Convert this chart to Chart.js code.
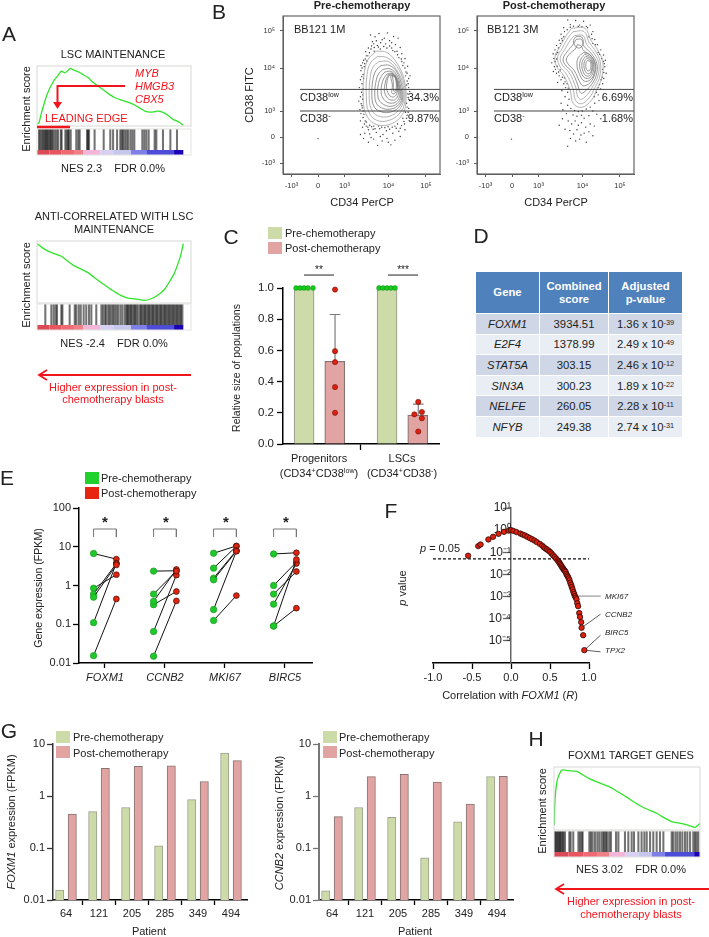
<!DOCTYPE html>
<html>
<head>
<meta charset="utf-8">
<title>Figure</title>
<script src="https://cdn.jsdelivr.net/npm/chart.js@4"></script>
<style>
  html, body { margin: 0; padding: 0; background: #fff; }
  #page { position: relative; width: 709px; height: 937px; overflow: hidden; font-family: "Liberation Sans", Arial, sans-serif; color: #222; }
  #page canvas { position: absolute; left: 0; top: 0; }
  #page svg { position: absolute; left: 0; top: 0; }
  .t { position: absolute; white-space: pre; line-height: 1; }
  sup { font-size: 0.65em; line-height: 0; vertical-align: 0.45em; }
  #genes { position: absolute; left: 475px; top: 271px; border-collapse: separate; border-spacing: 1.5px; font-size: 11.3px; text-align: center; }
  #genes th { background: #4f81bd; color: #fff; font-size: 11.3px; height: 41px; line-height: 13px; padding: 0; }
  #genes td { height: 19.6px; padding: 0; }
  #genes tr.a td { background: #cfd7e7; }
  #genes tr.b td { background: #e9edf4; }
  #genes td:first-child { font-style: italic; }
</style>
</head>
<body>
<div id="page">
<table id="genes">
  <tr><th style="width:63px">Gene</th><th style="width:68px">Combined<br>score</th><th style="width:73px">Adjusted<br>p-value</th></tr>
</table>
</div>
<script>
// ---- GSEA panels (rank in %, enrichment score)
const lscRank = [0, 1.3, 2.8, 5, 6.5, 8.2, 10, 11.5, 13.5, 15.8, 18, 19.5, 21.6, 24, 26.6, 30, 33.1, 36, 39.6, 43, 46.1, 50, 54.8, 59, 63.4, 67, 71, 75, 78, 81.8, 85, 88.3, 92, 95];
const lscES = [0.024, 0.04, 0.154, 0.295, 0.38, 0.457, 0.52, 0.566, 0.61, 0.668, 0.647, 0.665, 0.70, 0.68, 0.66, 0.625, 0.59, 0.535, 0.486, 0.44, 0.397, 0.35, 0.316, 0.29, 0.255, 0.215, 0.174, 0.17, 0.18, 0.166, 0.13, 0.081, 0.05, 0.008];
const lscHits = [1.3, 2.2, 3, 3.9, 4.8, 5.4, 6.1, 6.7, 7.4, 8.2, 8.9, 9.5, 10.4, 11.5, 12.6, 13.6, 15.4, 16, 18.4, 19.3, 20.1, 20.8, 21.9, 25.5, 26.8, 27.7, 32.5, 33.1, 33.8, 37.4, 43.3, 47.6, 49.4, 52, 54.1, 55, 55.8, 56.9, 58, 59.1, 60.6, 61.9, 63.2, 68.4, 69.7, 71, 72.5, 76.4, 77.5, 81.8, 86.6, 90.9];

const antiRank = [0, 4, 8.2, 12, 15.8, 19.5, 23.4, 28, 33.1, 37, 40.7, 45, 49.4, 54, 59.1, 64, 69.9, 75, 79.7, 83, 86.1, 89, 91.6, 93.5, 95];
const antiES = [0, -0.05, -0.087, -0.11, -0.133, -0.18, -0.227, -0.265, -0.307, -0.355, -0.401, -0.45, -0.499, -0.545, -0.576, -0.585, -0.6, -0.578, -0.53, -0.48, -0.401, -0.32, -0.209, -0.11, 0];
const antiHits = [5.4, 9.3, 10.8, 12.1, 13, 15.8, 16.5, 21.2, 24.5, 25.5, 27.1, 28.4, 30.3, 32, 33.8, 35.3, 38.5, 41.8, 42.9, 44.2, 45, 46.3, 47.2, 48.3, 49.4, 50.4, 51.5, 52.6, 54.1, 55.4, 56.9, 58, 58.7, 59.3, 60.2, 61, 61.9, 62.8, 63.6, 64.5, 65.4, 66.7, 67.5, 68.4, 69.3, 70.1, 71, 71.9, 72.7, 73.6, 74.5, 75.3, 76.2, 77.1, 77.9, 78.8, 79.7, 80.5, 81.4, 82.3, 83.1, 84, 84.8, 85.7, 86.6, 87.4, 88.3, 89.2, 90, 90.9, 91.8, 92.6, 93.5, 94.4];

const foxRank = [0.2, 0.7, 2.3, 5.3, 9.8, 15.5, 23.5, 31.5, 38.4, 44, 49.8, 55, 61.2, 70.3, 75, 80.6, 88.6, 92, 96.6, 100];
const foxES = [0, 0.366, 0.659, 0.80, 0.79, 0.78, 0.683, 0.61, 0.551, 0.48, 0.405, 0.33, 0.254, 0.171, 0.11, 0.049, 0.015, -0.005, -0.034, 0.024];
const foxHits = [0.2, 0.9, 1.6, 2.3, 3, 3.7, 4.3, 5, 5.9, 6.4, 7.5, 10.5, 11.4, 13.2, 16.7, 17.8, 19, 19.6, 24.2, 25.3, 26.5, 28.1, 29.7, 31.1, 32.6, 33.8, 34.5, 35.6, 36.5, 37.9, 39, 42.5, 44.1, 48.6, 50.9, 53.2, 54.8, 57.8, 60, 61.9, 63.5, 65.8, 68, 70.3, 72.6, 74.9, 80.6, 81.7, 83.3, 84.7, 86.3, 87.9, 89.7, 91.3, 93.2, 95.4, 96.6, 97.7, 98.9];

const bandColours = ['#dc4a58', '#e8555f', '#ef6a72', '#f08088', '#f4b6d8', '#d8d0f0', '#c6c6ee', '#7f7fe8', '#4c4cd8', '#1a00b8'];
const lscStops = [0, 8, 16, 24, 30, 41, 50, 61, 71, 89, 95];
const foxStops = [0, 10, 20, 30, 38, 49, 58, 67, 76, 96, 100];

// ---- flow plots, axis units: -10^3 = -1, 0 = 0, 10^3 = 1, 10^4 = 2.65, 10^5 = 4.08
const flowXTicks = [-1, 0, 1, 2.66, 4.07];
const flowYTicks = [-1, 0, 1, 2.65, 4.08];
const flowLabels = ['-10³', '0', '10³', '10⁴', '10⁵'];
const flowYLabels = ['-10³', '0', '10³', '10⁴', '10⁵'];
const gateLow = 1.83;
const gateNeg = 1.0;

const preContours = [
  [[2.2,3.3],[2.6,3.25],[3.0,2.8],[3.25,2.2],[3.32,1.5],[3.2,0.9],[2.75,0.5],[2.15,0.5],[1.8,0.9],[1.7,1.6],[1.75,2.5],[1.9,3.0]],
  [[2.25,3.1],[2.6,3.05],[2.98,2.7],[3.22,2.15],[3.28,1.5],[3.15,1.0],[2.7,0.65],[2.2,0.65],[1.9,1.0],[1.82,1.6],[1.85,2.4],[1.98,2.85]],
  [[2.3,2.9],[2.65,2.9],[2.95,2.6],[3.18,2.1],[3.24,1.5],[3.1,1.1],[2.7,0.8],[2.25,0.82],[2.0,1.1],[1.93,1.6],[1.97,2.3],[2.08,2.7]],
  [[2.38,2.75],[2.7,2.75],[2.97,2.5],[3.14,2.05],[3.2,1.5],[3.05,1.15],[2.7,0.95],[2.3,1.0],[2.1,1.2],[2.03,1.6],[2.07,2.2],[2.18,2.55]],
  [[2.45,2.6],[2.72,2.62],[2.96,2.4],[3.1,2.0],[3.16,1.5],[3.0,1.2],[2.7,1.07],[2.4,1.12],[2.2,1.3],[2.14,1.65],[2.18,2.1],[2.28,2.42]],
  [[2.52,2.5],[2.75,2.52],[2.95,2.32],[3.07,1.95],[3.12,1.55],[2.98,1.28],[2.72,1.18],[2.48,1.25],[2.3,1.42],[2.25,1.7],[2.28,2.05],[2.38,2.32]],
  [[2.6,2.42],[2.78,2.45],[2.95,2.25],[3.05,1.92],[3.08,1.6],[2.95,1.36],[2.75,1.3],[2.55,1.38],[2.42,1.55],[2.38,1.75],[2.4,2.0],[2.48,2.25]],
  [[2.66,2.4],[2.82,2.42],[2.95,2.2],[3.02,1.9],[3.03,1.65],[2.92,1.45],[2.76,1.42],[2.62,1.5],[2.52,1.68],[2.5,1.85],[2.53,2.05],[2.58,2.25]],
  [[2.68,2.38],[2.85,2.38],[2.97,2.18],[3.0,1.9],[2.98,1.7],[2.88,1.55],[2.76,1.55],[2.66,1.65],[2.6,1.8],[2.58,1.92],[2.6,2.1],[2.63,2.25]],
  [[2.74,2.36],[2.88,2.34],[2.96,2.14],[2.98,1.9],[2.95,1.75],[2.86,1.66],[2.78,1.7],[2.8,1.9],[2.8,2.05],[2.76,2.2]],
  [[2.8,2.36],[2.9,2.3],[2.95,2.1],[2.95,1.9],[2.92,1.78],[2.86,1.76],[2.84,1.9],[2.84,2.1]]
];
const postContours = [
  [[2.25,4.18],[2.75,4.18],[2.97,3.73],[3.19,3.41],[3.42,2.9],[3.38,2.26],[3.19,1.81],[3.0,1.42],[2.63,1.14],[2.31,1.29],[2.19,1.81],[1.94,2.38],[1.69,2.71],[1.62,3.09],[1.81,3.47],[2.06,3.92]],
  [[2.3,4.05],[2.72,4.05],[2.9,3.65],[3.12,3.35],[3.33,2.88],[3.3,2.3],[3.12,1.88],[2.92,1.52],[2.62,1.28],[2.4,1.4],[2.3,1.85],[2.05,2.42],[1.8,2.72],[1.72,3.08],[1.9,3.42],[2.12,3.82]],
  [[2.36,3.9],[2.68,3.9],[2.82,3.55],[3.05,3.28],[3.27,2.85],[3.24,2.35],[3.05,1.95],[2.85,1.65],[2.62,1.45],[2.48,1.55],[2.4,1.92],[2.15,2.48],[1.9,2.76],[1.82,3.05],[1.98,3.35],[2.2,3.72]],
  [[2.42,3.75],[2.62,3.75],[2.72,3.48],[2.98,3.22],[3.2,2.82],[3.18,2.38],[3.0,2.02],[2.8,1.8],[2.62,1.68],[2.54,1.78],[2.48,2.0],[2.25,2.52],[2.0,2.78],[1.93,3.02],[2.08,3.28],[2.3,3.55]],
  [[2.47,3.55],[2.6,3.5],[2.7,3.32],[2.95,3.15],[3.15,2.8],[3.12,2.42],[2.96,2.1],[2.78,1.98],[2.65,1.98],[2.55,2.12],[2.35,2.55],[2.12,2.8],[2.05,3.0],[2.2,3.22],[2.38,3.38]],
  [[2.7,3.25],[2.95,3.15],[3.12,2.82],[3.1,2.45],[2.95,2.2],[2.72,2.15],[2.55,2.4],[2.45,2.75],[2.5,3.05]],
  [[2.75,3.18],[2.95,3.08],[3.08,2.8],[3.06,2.5],[2.93,2.28],[2.75,2.27],[2.62,2.45],[2.55,2.75],[2.6,3.0]],
  [[2.78,3.1],[2.95,3.02],[3.05,2.8],[3.02,2.55],[2.92,2.36],[2.78,2.36],[2.68,2.52],[2.63,2.75],[2.67,2.95]],
  [[2.82,3.02],[2.95,2.96],[3.02,2.78],[3.0,2.58],[2.92,2.44],[2.82,2.45],[2.74,2.58],[2.71,2.76],[2.74,2.92]],
  [[2.85,2.94],[2.95,2.9],[2.98,2.77],[2.96,2.62],[2.9,2.54],[2.84,2.55],[2.79,2.65],[2.78,2.76],[2.8,2.87]],
  [[2.4,3.85],[2.62,3.85],[2.68,3.6],[2.55,3.42],[2.38,3.5],[2.32,3.7]]
];
const preDots = [[1.98,3.92],[2.15,3.85],[2.3,3.98],[2.62,4.0],[2.85,3.86],[3.02,3.8],[2.42,3.74],[2.05,3.66],[2.2,3.7],[2.36,3.62],[2.55,3.58],[2.7,3.7],[2.92,3.55],[3.1,3.44],[1.9,3.42],[2.02,3.5],[2.12,3.44],[2.28,3.46],[2.78,3.42],[2.98,3.3],[3.16,3.2],[1.8,3.28],[1.88,3.12],[1.78,3.0],[1.68,2.85],[1.74,2.7],[1.62,2.55],[1.7,2.4],[1.6,2.2],[1.66,2.05],[1.56,1.9],[1.64,1.72],[1.6,1.55],[1.54,1.38],[1.66,1.2],[1.58,1.05],[1.62,0.9],[1.7,0.75],[1.6,0.62],[1.75,0.5],[1.68,0.38],[1.82,0.42],[1.9,0.28],[1.76,0.15],[1.95,0.12],[2.08,0.3],[2.2,0.18],[2.33,0.32],[2.45,0.1],[2.58,0.24],[2.7,0.3],[2.82,0.15],[2.95,0.34],[3.05,0.22],[3.15,0.44],[3.24,0.6],[3.34,0.72],[3.4,0.95],[3.36,1.15],[3.45,1.4],[3.38,1.66],[3.42,1.9],[3.36,2.15],[3.47,2.35],[3.32,2.5],[3.38,2.72],[3.24,2.85],[3.28,3.02],[3.14,3.0],[1.72,-0.05],[1.9,-0.2],[2.1,-0.08],[2.25,-0.32],[2.42,-0.15],[2.6,-0.05],[2.75,-0.3],[2.9,-0.12],[3.1,0.02],[2.0,-0.02],[2.35,0.02],[2.65,-0.2],[1.6,0.1],[3.28,0.28],[0.0,-0.06],[1.72,2.95],[1.66,2.65],[1.72,2.25],[1.7,1.85],[1.68,1.45],[1.7,1.0],[1.78,0.62],[1.84,2.92],[1.95,0.45],[2.1,0.42],[2.4,0.38],[2.8,0.38],[3.0,0.5],[3.2,0.72],[3.3,0.95],[3.34,1.3],[3.4,2.05],[3.3,2.35],[3.2,2.75],[3.05,3.05],[2.9,3.28],[2.6,3.42],[2.35,3.38],[2.12,3.3],[1.65,2.32],[1.62,2.75],[1.68,1.62],[1.63,1.28],[1.67,1.12],[1.73,0.88],[1.82,0.58],[1.88,0.38],[2.02,0.4],[2.15,0.32],[2.28,0.42],[2.52,0.36],[2.64,0.4],[2.9,0.42],[3.1,0.34],[3.26,0.5],[3.36,0.84],[3.42,1.1],[3.4,1.52],[3.46,1.75],[3.34,2.0],[3.42,2.25],[3.36,2.45],[3.28,2.65],[3.16,2.9],[3.0,3.16],[2.82,3.32],[2.7,3.5],[2.48,3.48],[2.24,3.52],[2.0,3.38],[1.94,3.24],[1.82,3.12],[1.76,2.82],[2.5,3.8],[2.78,3.62],[2.1,3.58]];
const postDots = [[2.1,4.5],[2.4,4.48],[2.7,4.45],[2.95,4.3],[1.95,4.2],[2.2,4.32],[2.55,4.3],[2.85,4.2],[3.05,4.05],[1.85,3.95],[1.98,4.05],[1.78,3.72],[1.9,3.7],[3.0,3.95],[3.12,3.75],[1.68,3.52],[1.75,3.42],[1.62,3.35],[1.55,3.2],[1.58,3.02],[1.5,2.85],[1.6,2.7],[1.56,2.52],[1.68,2.45],[1.78,2.35],[1.85,2.2],[1.72,2.1],[1.95,2.05],[2.02,1.9],[1.88,1.78],[2.1,1.72],[3.22,3.55],[3.35,3.35],[3.45,3.15],[3.52,2.95],[3.5,2.7],[3.55,2.45],[3.46,2.25],[3.42,2.05],[3.34,1.85],[3.25,1.62],[3.28,1.4],[3.12,1.3],[2.0,1.55],[2.15,1.45],[1.85,1.3],[2.1,1.22],[2.22,1.1],[2.36,1.02],[2.5,0.98],[2.65,1.0],[2.8,1.08],[2.95,1.15],[3.05,1.0],[1.92,1.05],[2.05,0.9],[2.3,0.85],[2.45,0.8],[2.62,0.84],[2.72,0.72],[2.9,0.82],[3.2,0.88],[3.35,0.7],[1.9,0.7],[2.12,0.62],[2.25,0.5],[2.38,0.62],[2.5,0.45],[2.62,0.55],[2.78,0.38],[2.95,0.5],[3.1,0.42],[1.78,0.45],[2.0,0.3],[2.18,0.25],[2.32,0.12],[2.45,0.28],[2.6,0.08],[2.72,0.15],[2.9,0.2],[3.05,0.05],[2.2,-0.05],[2.4,-0.15],[2.55,-0.08],[2.8,-0.2],[2.1,-0.35],[-0.02,-0.08],[1.72,3.25],[1.68,3.0],[1.7,2.72],[1.82,2.58],[1.98,2.28],[2.08,2.05],[3.45,2.9],[3.42,2.6],[3.36,2.2],[3.25,1.9],[3.1,1.55],[2.9,3.85],[3.05,3.6],[3.25,3.25],[2.2,4.22],[2.5,4.25],[2.8,4.25],[1.95,3.85],[1.82,3.6],[1.66,3.18],[1.62,2.9],[1.64,2.6],[1.76,2.5],[1.9,2.3],[2.0,2.12],[2.12,1.88],[3.48,2.82],[3.46,2.48],[3.4,2.3],[3.3,2.02],[3.18,1.72],[3.02,3.78],[3.14,3.55],[3.3,3.18],[3.38,3.02],[2.32,4.26],[2.64,4.24],[2.08,4.12],[1.88,3.78]];

// ---- panel C
const populations = ['Progenitors', 'LSCs'];
const meanPre = [1, 1];
const meanPost = [0.53, 0.185];
const errorTop = [0.83, 0.255];
const dotsPreX = [0.723, 0.771, 0.819, 0.867, 0.928, 1.723, 1.771, 1.819, 1.867, 1.916];
const dotsPreY = [1, 1, 1, 1, 1, 1, 1, 1, 1, 1];
const dotsPostX = [1.193, 1.193, 1.193, 1.193, 1.193, 2.196, 2.24, 2.149, 2.24, 2.196];
const dotsPostY = [0.99, 0.595, 0.525, 0.365, 0.2, 0.27, 0.205, 0.19, 0.165, 0.08];

// ---- panel D
const tfGenes = ['FOXM1', 'E2F4', 'STAT5A', 'SIN3A', 'NELFE', 'NFYB'];
const tfScores = ['3934.51', '1378.99', '303.15', '300.23', '260.05', '249.38'];
const tfPValues = ['1.36', '2.49', '2.46', '1.89', '2.28', '2.74'];
const tfExponents = ['-39', '-49', '-12', '-22', '-11', '-31'];

// ---- panels E and G
const genes = ['FOXM1', 'CCNB2', 'MKI67', 'BIRC5'];
const patients = ['64', '121', '205', '285', '349', '494'];
const foxm1Pre = [0.0155, 0.5, 0.6, 0.11, 0.85, 6.7];
const foxm1Post = [0.45, 3.4, 3.7, 3.8, 1.9, 4.8];
const ccnb2Pre = [0.015, 0.6, 0.39, 0.065, 0.32, 2.35];
const ccnb2Post = [0.4, 2.35, 2.6, 1.85, 0.7, 2.4];
const mki67Pre = [0.125, 0.24, 1.4, 1.55, 2.8, 6.8];
const mki67Post = [0.55, 7.7, 7.7, 8, 10.3, 10.5];
const birc5Pre = [0.09, 0.09, 0.33, 0.6, 1, 6.5];
const birc5Post = [0.26, 4.7, 3.7, 2.3, 4, 7];

// ---- panel F
const corrR = [-0.55, -0.42, -0.39, -0.29, -0.23, -0.16, -0.09, -0.03, 0, 0.03, 0.07, 0.12, 0.15, 0.18, 0.21, 0.24, 0.27, 0.3, 0.33, 0.37, 0.4, 0.42, 0.44, 0.46, 0.48, 0.5, 0.52, 0.54, 0.56, 0.58, 0.6, 0.61, 0.62, 0.63, 0.64, 0.65, 0.66, 0.67, 0.68, 0.69, 0.7, 0.71, 0.72, 0.73, 0.74, 0.75, 0.76, 0.77, 0.78, 0.79, 0.8, 0.81, 0.82, 0.83, 0.84, 0.85, 0.86, 0.875, 0.885, 0.9, 0.905, 0.925, 0.94];
const corrP = [0.07, 0.19, 0.225, 0.38, 0.5, 0.68, 0.84, 0.95, 1, 0.93, 0.82, 0.7, 0.63, 0.57, 0.5, 0.44, 0.39, 0.34, 0.29, 0.24, 0.2, 0.17, 0.15, 0.135, 0.12, 0.105, 0.088, 0.073, 0.062, 0.051, 0.043, 0.038, 0.034, 0.03, 0.026, 0.023, 0.02, 0.018, 0.016, 0.0145, 0.013, 0.0105, 0.009, 0.0078, 0.0066, 0.0055, 0.0042, 0.0034, 0.0027, 0.0021, 0.0016, 0.0013, 0.00105, 0.0009, 0.00075, 0.0005, 0.00037, 0.00018, 0.00012, 0.00007, 0.000039, 0.000018, 0.0000038];
const fLeaders = [[[0.82, 0.00105], [1.15, 0.00105]], [[0.905, 0.000039], [1.148, 0.00016]], [[0.94, 0.0000038], [1.148, 0.000018]], [[0.94, 0.0000038], [1.148, 0.0000032]]];

// ---- helpers
const page = document.getElementById('page');
const PAGE_W = 709;
const PAGE_H = 937;
const ROOM_Y = 36;   // room kept left of a plot for y tick labels
const ROOM_X = 24;   // room kept under a plot for x tick labels
Chart.defaults.font.family = '"Liberation Sans", Arial, sans-serif';
Chart.defaults.color = '#222';

const framePlugin = {
  id: 'frame',
  afterDatasetsDraw(chart, args, opts) {
    if (!opts.color) return;
    const a = chart.chartArea;
    const ctx = chart.ctx;
    ctx.save();
    ctx.strokeStyle = opts.color;
    ctx.lineWidth = opts.width || 1;
    ctx.strokeRect(a.left, a.top, a.right - a.left, a.bottom - a.top);
    ctx.restore();
  }
};

// every chart gets a page sized canvas, the padding puts its plot area where it belongs
function draw(area, type, datasets, scales, frame) {
  const canvas = document.createElement('canvas');
  canvas.width = PAGE_W;
  canvas.height = PAGE_H;
  page.appendChild(canvas);
  const roomLeft = scales.y.position ? 0 : ROOM_Y;
  return new Chart(canvas.getContext('2d'), {
    type: type,
    data: { datasets: datasets },
    plugins: [framePlugin],
    options: {
      responsive: false,
      animation: false,
      events: [],
      layout: { padding: { left: area.l - roomLeft, top: area.t, right: PAGE_W - area.r, bottom: PAGE_H - area.b - ROOM_X } },
      plugins: { legend: { display: false }, tooltip: { enabled: false }, frame: frame || {} },
      scales: scales
    }
  });
}

function axis(type, min, max, values, labels, o) {
  o = o || {};
  const s = {
    type: type, min: min, max: max,
    afterFit: sc => { if (sc.isHorizontal()) sc.height = ROOM_X; else sc.width = ROOM_Y; },
    afterBuildTicks: sc => { sc.ticks = values.map(v => ({ value: v })); },
    ticks: {
      display: o.hideLabels ? false : true,
      autoSkip: false, maxRotation: 0, minRotation: 0,
      padding: o.pad === undefined ? 3 : o.pad,
      color: o.textColor || '#222',
      font: { size: o.size || 11, style: o.italic ? 'italic' : 'normal' },
      callback: (v, i) => labels[i]
    },
    grid: {
      drawOnChartArea: !!o.grid, color: o.grid || '#000',
      drawTicks: o.tick !== 0, tickLength: o.tick === undefined ? 5 : o.tick,
      tickColor: o.color || '#000', tickWidth: o.tickWidth || 1.3
    },
    border: { display: o.noBorder ? false : true, color: o.color || '#000', width: o.width || 1.5 },
    offset: false
  };
  if (o.position) s.position = o.position;
  return s;
}

function txt(html, x, y, o) {
  o = o || {};
  const d = document.createElement('div');
  d.className = 't';
  d.innerHTML = html;
  d.style.left = x + 'px';
  d.style.top = y + 'px';
  d.style.fontSize = (o.size || 11) + 'px';
  if (o.color) d.style.color = o.color;
  if (o.bold) d.style.fontWeight = 'bold';
  if (o.italic) d.style.fontStyle = 'italic';
  const ax = o.align === 'l' ? '0' : o.align === 'r' ? '-100%' : '-50%';
  d.style.transform = 'translate(' + ax + ',-50%)' + (o.rot ? ' rotate(-90deg)' : '');
  page.appendChild(d);
}

function swatch(x, y, w, h, colour) {
  const d = document.createElement('div');
  d.style.cssText = 'position:absolute;left:' + x + 'px;top:' + y + 'px;width:' + w + 'px;height:' + h + 'px;background:' + colour;
  page.appendChild(d);
}

function pairs(xs, ys) { return xs.map((x, i) => ({ x: x, y: ys[i] })); }
function toXY(list) { return list.map(p => ({ x: p[0], y: p[1] })); }
function superLog(exp) { return '10' + String(exp).replace('-', '⁻').replace(/\d/g, c => '⁰¹²³⁴⁵⁶⁷⁸⁹'[c]); }

function gsea(area, track, rank, es, yMin, yMax, hits, stops) {
  const gridX = [12.5, 25, 37.5, 50, 62.5, 75, 87.5];
  const gridY = [yMin + (yMax - yMin) * 0.2, yMin + (yMax - yMin) * 0.4, yMin + (yMax - yMin) * 0.6, yMin + (yMax - yMin) * 0.8];
  draw(area, 'scatter', [
    { data: pairs(rank, es), showLine: true, borderColor: '#2fe42a', borderWidth: 1.3, pointRadius: 0, tension: 0.2 }
  ], {
    x: axis('linear', 0, 100, gridX, [], { hideLabels: true, tick: 0, grid: '#efefef', noBorder: true }),
    y: axis('linear', yMin, yMax, gridY, [], { hideLabels: true, tick: 0, grid: '#efefef', noBorder: true })
  }, { color: '#d8d8d4', width: 1 });
  draw(track, 'bar', [
    { type: 'line', data: stops.map(s => ({ x: s, y: 2.5 })), borderWidth: 5, pointRadius: 0, borderColor: bandColours[0],
      segment: { borderColor: c => bandColours[c.p0DataIndex] }, order: 1 },
    { type: 'bar', data: hits.map(h => ({ x: h, y: [5, 26] })), backgroundColor: 'rgba(0,0,0,0.55)', barThickness: 1.4, grouped: false, order: 2 }
  ], {
    x: axis('linear', 0, 100, [], [], { hideLabels: true, tick: 0, noBorder: true }),
    y: axis('linear', 0, 26, [], [], { hideLabels: true, tick: 0, noBorder: true })
  }, { color: '#e2e2e0', width: 1 });
}

function flow(area, contours, dots) {
  const gates = [gateLow, gateNeg].map(g => ({
    data: [{ x: -0.68, y: g }, { x: 4.6, y: g }], showLine: true, borderColor: '#444', borderWidth: 1, pointRadius: 0, order: 0
  }));
  const rings = contours.map((ring, i) => ({
    data: toXY(ring.concat([ring[0]])), showLine: true, tension: 0.4, pointRadius: 0,
    borderColor: i < 3 ? '#a0a0a0' : '#787878', borderWidth: 0.8, order: 2
  }));
  const spots = { data: toXY(dots), pointRadius: 0.7, pointBackgroundColor: '#333', pointBorderWidth: 0, order: 3 };
  draw(area, 'scatter', gates.concat(rings, [spots]), {
    x: axis('linear', -1.32, 4.6, flowXTicks, flowLabels, { size: 7.5, tick: 3, pad: 4, color: '#555', width: 1, tickWidth: 1, textColor: '#333' }),
    y: axis('linear', -1.42, 4.65, flowYTicks, flowYLabels, { size: 7.5, tick: 3, pad: 5, color: '#555', width: 1, tickWidth: 1, textColor: '#333' })
  }, { color: '#666', width: 1.2 });
}

// ---- panel A
gsea({ l: 37, t: 66, r: 191, b: 126 }, { l: 37, t: 129, r: 191, b: 155 }, lscRank, lscES, 0, 0.73, lscHits, lscStops);
gsea({ l: 37, t: 241, r: 191, b: 303 }, { l: 37, t: 304, r: 191, b: 330 }, antiRank, antiES, -0.628, 0.028, antiHits, lscStops);

// ---- panel H
gsea({ l: 554, t: 767, r: 700, b: 830 }, { l: 554, t: 831, r: 700, b: 857 }, foxRank, foxES, -0.073, 0.844, foxHits, foxStops);

// ---- panel B
flow({ l: 283, t: 16, r: 440, b: 174 }, preContours, preDots);
flow({ l: 477, t: 16, r: 634, b: 174 }, postContours, postDots);

// ---- panel C
const cBarPre = [0.82, 1.82];
const cBarPost = [1.19, 2.19];
const cDatasets = [
  { data: pairs(dotsPreX, dotsPreY), pointRadius: 2.4, pointBackgroundColor: '#16cc1c', pointBorderColor: '#0a8a10', pointBorderWidth: 0.5, type: 'scatter', clip: false, order: 0 },
  { data: pairs(dotsPostX, dotsPostY), pointRadius: 2.6, pointBackgroundColor: '#e0200e', pointBorderColor: '#6a1008', pointBorderWidth: 0.6, type: 'scatter', clip: false, order: 0 },
  { type: 'bar', data: pairs(cBarPre, meanPre), backgroundColor: '#cddba8', borderColor: '#9c9e90', borderWidth: 1.2, barThickness: 20, grouped: false, order: 3 },
  { type: 'bar', data: pairs(cBarPost, meanPost), backgroundColor: '#e2a3a3', borderColor: '#857474', borderWidth: 1.2, barThickness: 20, grouped: false, order: 3 }
];
meanPost.forEach((m, i) => {
  const c = dotsPostX[i * 5];
  cDatasets.push({ type: 'line', data: [{ x: c - 0.064, y: errorTop[i] }, { x: c + 0.064, y: errorTop[i] }, { x: c, y: errorTop[i] }, { x: c, y: m }],
    borderColor: '#7d7d7d', borderWidth: 1.2, pointRadius: 0, order: 1 });
});
[[0.819, 1.181], [1.831, 2.193]].forEach(b => {
  cDatasets.push({ type: 'line', data: [{ x: b[0], y: 1.083 }, { x: b[1], y: 1.083 }], borderColor: '#222', borderWidth: 1, pointRadius: 0, clip: false, order: 1 });
});
draw({ l: 283, t: 288, r: 439, b: 444 }, 'bar', cDatasets, {
  x: axis('linear', 0.566, 2.446, [1, 2], populations, { size: 11, tick: 6, pad: 2 }),
  y: axis('linear', 0, 1, [0, 0.2, 0.4, 0.6, 0.8, 1], ['0.0', '0.2', '0.4', '0.6', '0.8', '1.0'], { size: 11.5, tick: 6, pad: 3 })
});

// ---- panel E
const eDatasets = [];
[[foxm1Pre, foxm1Post], [ccnb2Pre, ccnb2Post], [mki67Pre, mki67Post], [birc5Pre, birc5Post]].forEach((g, gi) => {
  const c = gi + 1;
  g[0].forEach((v, i) => {
    eDatasets.push({ data: [{ x: c - 0.19, y: v }, { x: c + 0.19, y: g[1][i] }], showLine: true, borderColor: '#111', borderWidth: 1,
      pointRadius: [3.2, 2.9], pointBackgroundColor: ['#1fc92a', '#e0240f'], pointBorderColor: ['#1a9a22', '#331008'], pointBorderWidth: 0.7 });
  });
  eDatasets.push({ data: [{ x: c - 0.19, y: 17.8 }, { x: c - 0.19, y: 28.7 }, { x: c + 0.19, y: 28.7 }, { x: c + 0.19, y: 17.8 }], showLine: true,
    borderColor: '#777', borderWidth: 1, pointRadius: 0 });
});
draw({ l: 79, t: 508, r: 312, b: 663 }, 'scatter', eDatasets, {
  x: axis('linear', 0.567, 4.45, [1, 2, 3, 4], genes, { size: 11, italic: true, tick: 5, pad: 3 }),
  y: axis('logarithmic', 0.01, 100, [0.01, 0.1, 1, 10, 100], ['0.01', '0.1', '1', '10', '100'], { size: 11, tick: 6, pad: 2 })
});

// ---- panel F
const fDatasets = [
  { data: pairs(corrR, corrP), pointRadius: 2.7, pointBackgroundColor: '#e0200e', pointBorderColor: '#2a0a06', pointBorderWidth: 0.8, order: 0 },
  { data: [{ x: -1, y: 0.05 }, { x: 1, y: 0.05 }], showLine: true, borderColor: '#111', borderWidth: 1.2, borderDash: [3, 2], pointRadius: 0, order: 1 }
];
fLeaders.forEach((l, i) => {
  fDatasets.push({ data: toXY(l), showLine: true, borderColor: i === 0 ? '#999' : '#333', borderWidth: i === 0 ? 1.2 : 0.8, pointRadius: 0, clip: false, order: 2 });
});
const fExps = [1, 0, -1, -2, -3, -4, -5];
draw({ l: 433, t: 508, r: 589, b: 663 }, 'scatter', fDatasets, {
  x: axis('linear', -1, 1, [-1, -0.5, 0, 0.5, 1], ['-1.0', '-0.5', '0.0', '0.5', '1.0'], { size: 11, tick: 6, pad: 2 }),
  y: axis('logarithmic', 0.000001, 10, [10, 1, 0.1, 0.01, 0.001, 0.0001, 0.00001], fExps.map(superLog), { size: 12, tick: 7, pad: 1, color: '#666', position: { x: 0 }, textColor: '#222' })
});

// ---- panel G
function patientBars(area, pre, post, axisColour, axisWidth) {
  const xPre = patients.map((p, i) => i + 1 - 0.19);
  const xPost = patients.map((p, i) => i + 1 + 0.19);
  draw(area, 'bar', [
    { data: pairs(xPre, pre), backgroundColor: '#cddba8', borderColor: '#9c9e90', borderWidth: 1, barThickness: 8.3, grouped: false },
    { data: pairs(xPost, post), backgroundColor: '#e2a3a3', borderColor: '#857474', borderWidth: 1, barThickness: 8.3, grouped: false }
  ], {
    x: axis('linear', 0.606, 6.485, [1, 2, 3, 4, 5, 6], patients, { size: 11, tick: 5, pad: 2 }),
    y: axis('logarithmic', 0.01, 10, [0.01, 0.1, 1, 10], ['0.01', '0.1', '1', '10'], { size: 11, tick: 6, pad: 2, color: axisColour, width: axisWidth })
  });
}
patientBars({ l: 53, t: 744, r: 247, b: 900 }, foxm1Pre, foxm1Post, '#333', 1.5);
patientBars({ l: 319, t: 744, r: 513, b: 900 }, ccnb2Pre, ccnb2Post, '#777', 2);

// ---- panel D table
const table = document.getElementById('genes');
tfGenes.forEach((g, i) => {
  const tr = document.createElement('tr');
  tr.className = i % 2 ? 'b' : 'a';
  tr.innerHTML = '<td>' + g + '</td><td>' + tfScores[i] + '</td><td>' + tfPValues[i] + ' x 10<sup>' + tfExponents[i] + '</sup></td>';
  table.appendChild(tr);
});

// ---- arrows on top of the charts
const RED = '#f2141c';
page.insertAdjacentHTML('beforeend', '<svg width="709" height="937" fill="none" stroke="' + RED + '">' +
  '<polyline points="125,86 57.5,86 57.5,104" stroke-width="2"/><polygon points="53,102 62,102 57.5,109" fill="' + RED + '" stroke="none"/>' +
  '<line x1="37" y1="127" x2="70" y2="127" stroke-width="2.5"/>' +
  '<line x1="191" y1="375" x2="39" y2="375" stroke-width="1.8"/><polyline points="47,370 39,375 47,380" stroke-width="1.8"/>' +
  '<line x1="709" y1="889" x2="556" y2="889" stroke-width="1.8"/><polyline points="564,884 556,889 564,894" stroke-width="1.8"/>' +
  '</svg>');

// ---- text
[['A', 9, 33], ['B', 219, 11], ['C', 231, 236], ['D', 481, 235], ['E', 7, 477], ['F', 391, 510], ['G', 9, 730], ['H', 536, 738]].forEach(l => {
  txt(l[0], l[1], l[2], { size: 21 });
});

txt('LSC MAINTENANCE', 113, 54, { size: 11 });
txt('Enrichment score', 26, 109, { size: 11, rot: true });
txt('MYB', 135, 73, { size: 11, color: RED, italic: true, align: 'l' });
txt('HMGB3', 135, 86, { size: 11, color: RED, italic: true, align: 'l' });
txt('CBX5', 135, 99, { size: 11, color: RED, italic: true, align: 'l' });
txt('LEADING EDGE', 45, 118, { size: 11, color: RED, align: 'l' });
txt('NES 2.3    FDR 0.0%', 113, 168, { size: 11 });
txt('ANTI-CORRELATED WITH LSC', 114, 216, { size: 11 });
txt('MAINTENANCE', 114, 229, { size: 11 });
txt('Enrichment score', 26, 285, { size: 11, rot: true });
txt('NES -2.4    FDR 0.0%', 114, 343, { size: 11 });
txt('Higher expression in post-', 113, 387, { size: 11, color: RED });
txt('chemotherapy blasts', 113, 399, { size: 11, color: RED });

txt('Pre-chemotherapy', 362, 5, { size: 11, bold: true });
txt('Post-chemotherapy', 554, 5, { size: 11, bold: true });
txt('CD38 FITC', 249, 95, { size: 11, rot: true });
txt('CD34 PerCP', 362, 202, { size: 11 });
txt('CD34 PerCP', 556, 202, { size: 11 });
txt('BB121 1M', 294, 29, { size: 11, align: 'l' });
txt('BB121 3M', 487, 29, { size: 11, align: 'l' });
[[300, 439, '34.3%', '9.87%'], [494, 633, '6.69%', '1.68%']].forEach(g => {
  txt('CD38<sup>low</sup>', g[0], 97, { size: 11, align: 'l' });
  txt('CD38<sup>-</sup>', g[0], 118, { size: 11, align: 'l' });
  txt(g[2], g[1], 97, { size: 11, align: 'r' });
  txt(g[3], g[1], 118, { size: 11, align: 'r' });
});

swatch(268, 227, 14, 12, '#cddba8');
swatch(268, 242, 14, 12, '#e2a3a3');
txt('Pre-chemotherapy', 285, 233, { size: 11, align: 'l' });
txt('Post-chemotherapy', 285, 248, { size: 11, align: 'l' });
txt('**', 319, 270, { size: 10 });
txt('***', 403, 270, { size: 10 });
txt('Relative size of populations', 236, 368, { size: 10.5, rot: true });
txt('(CD34<sup>+</sup>CD38<sup>low</sup>)', 319, 473, { size: 11 });
txt('(CD34<sup>+</sup>CD38<sup>-</sup>)', 402, 473, { size: 11 });

swatch(85, 472, 14, 12, '#22d12d');
swatch(85, 487, 14, 12, '#e8260f');
txt('Pre-chemotherapy', 101, 478, { size: 11, align: 'l' });
txt('Post-chemotherapy', 101, 493, { size: 11, align: 'l' });
txt('Gene expression (FPKM)', 38, 588, { size: 10.6, rot: true });
[105, 166, 226, 286].forEach(x => txt('*', x, 521, { size: 15, bold: true }));

txt('<i>p</i> = 0.05', 440, 548, { size: 11 });
txt('<i>p</i> value', 402, 588, { size: 11, rot: true });
txt('Correlation with <i>FOXM1</i> (<i>R</i>)', 510, 695, { size: 11 });
[['MKI67', 597], ['CCNB2', 615], ['BIRC5', 633], ['TPX2', 651]].forEach(g => {
  txt(g[0], 605, g[1], { size: 8, italic: true, align: 'l' });
});

swatch(56, 731, 14, 12, '#cddba8');
swatch(56, 746, 14, 12, '#e2a3a3');
txt('Pre-chemotherapy', 73, 737, { size: 11, align: 'l' });
txt('Post-chemotherapy', 73, 753, { size: 11, align: 'l' });
txt('<i>FOXM1</i> expression (FPKM)', 11, 822, { size: 11, rot: true });
txt('Patient', 149, 931, { size: 11 });

swatch(323, 731, 14, 12, '#cddba8');
swatch(323, 746, 14, 12, '#e2a3a3');
txt('Pre-chemotherapy', 339, 737, { size: 11, align: 'l' });
txt('Post-chemotherapy', 339, 753, { size: 11, align: 'l' });
txt('<i>CCNB2</i> expression (FPKM)', 279, 823, { size: 11, rot: true });
txt('Patient', 415, 931, { size: 11 });

txt('FOXM1 TARGET GENES', 631, 755, { size: 11 });
txt('Enrichment score', 542, 811, { size: 11, rot: true });
txt('NES 3.02    FDR 0.0%', 631, 869, { size: 11 });
txt('Higher expression in post-', 631, 901, { size: 11, color: RED });
txt('chemotherapy blasts', 631, 914, { size: 11, color: RED });
</script>
</body>
</html>
